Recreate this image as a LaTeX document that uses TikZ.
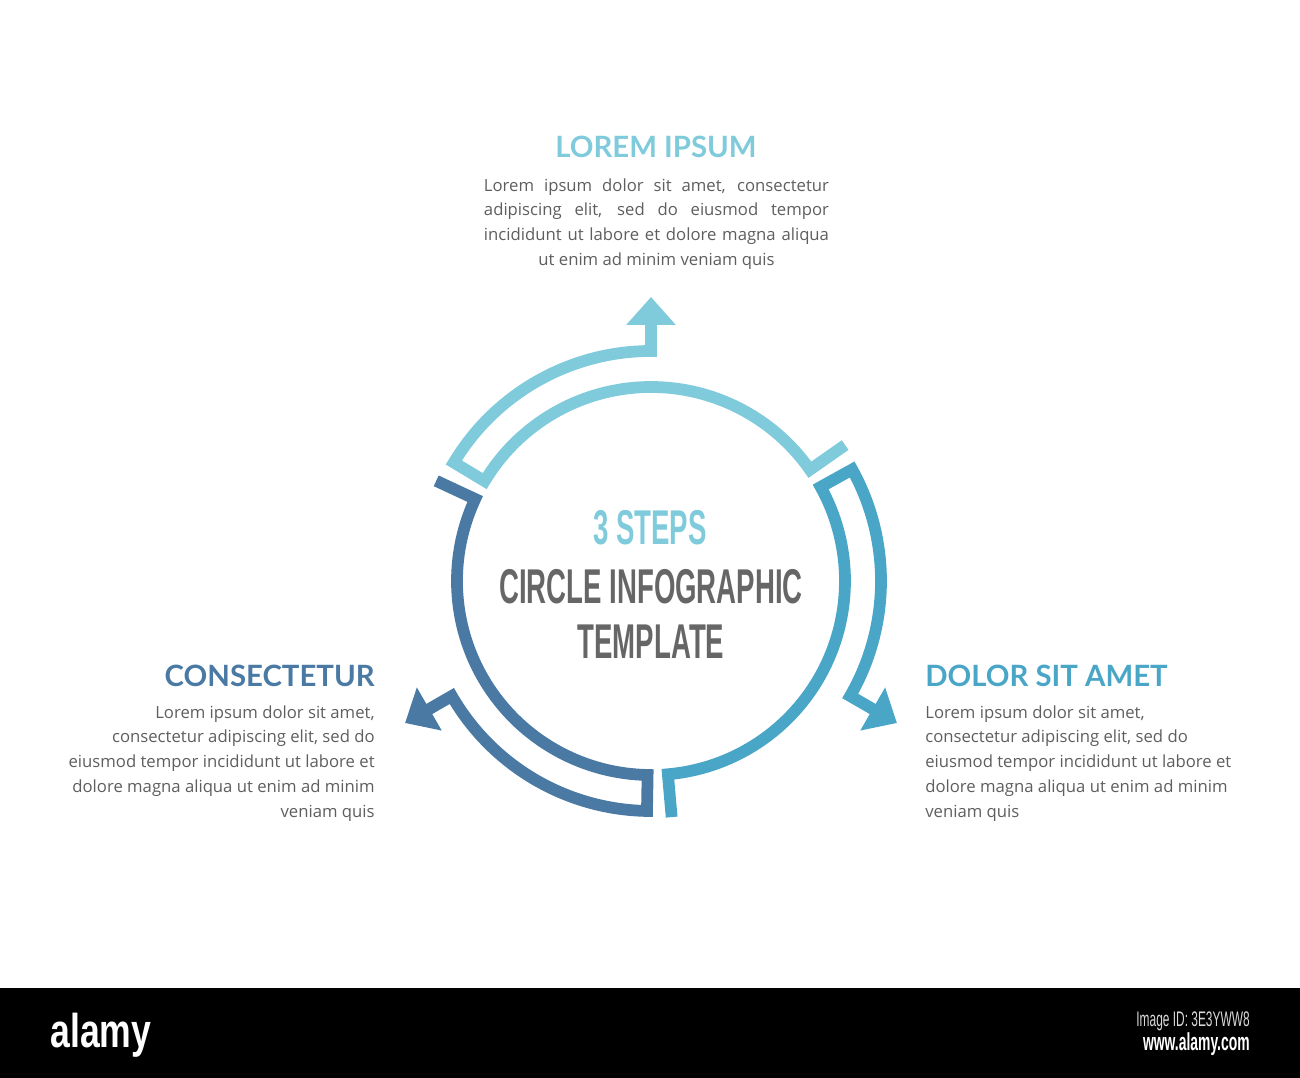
\documentclass[tikz,border=0pt]{standalone}
\usepackage{fontspec}
\usepackage{xcolor}
\usetikzlibrary{arrows.meta}
\setmainfont{Open Sans}
\newfontfamily\headfont{Lato}
\newfontfamily\stepsfont[FakeStretch=0.565]{Liberation Sans}
\newfontfamily\logofont[FakeStretch=0.75]{Liberation Sans}

\definecolor{segTop}{HTML}{7FCBDC}
\definecolor{segRight}{HTML}{4AA6C6}
\definecolor{segLeft}{HTML}{4A7AA3}
\definecolor{bodyGray}{HTML}{5E5E5E}
\definecolor{titleGray}{HTML}{666666}

\begin{document}
\begin{tikzpicture}[scale=1.0,
        seg/.style={line width=0.235cm, line join=miter, -{Triangle[length=0.56cm,width=0.96cm]}},
        head/.style={inner sep=0pt, font=\headfont\bfseries\fontsize{16.7}{20}\selectfont},
        body/.style={inner sep=0pt, text=bodyGray, font=\fontsize{9.5}{14.2}\selectfont},
        title/.style={inner sep=0pt, font=\stepsfont\bfseries\fontsize{27.8}{30}\selectfont}]
        \useasboundingbox (-13.02,-9.94) rectangle (12.98,11.62);

        % Сегменты круга
        \foreach \ang/\col in {0/segTop, -120/segRight, 120/segLeft}
            \draw[seg, \col, rotate=\ang] (35:4.74) -- (35:3.88)
                arc[start angle=35, end angle=149, radius=3.88] -- (149:4.6)
                arc[start angle=149, end angle=90, radius=4.6] -- (90:5.68);

        % Заголовок в центре
        \node[title, text=segTop, anchor=base] (steps) at (-0.02,0.72) {3 STEPS};
        \node[title, text=titleGray, anchor=base] (circ) at (0,-0.44) {CIRCLE INFOGRAPHIC};
        \node[title, text=titleGray, anchor=base] (templ) at (0,-1.54) {TEMPLATE};

        % Верхний блок
        \node[head, text=segTop, anchor=base] (headTop) at (0.1,8.46) {LOREM IPSUM};
        \node[body, anchor=north, align=center] (bodyTop) at (0.11,8.06)
            {\makebox[6.9cm][s]{Lorem ipsum dolor sit amet, consectetur}\\
             \makebox[6.9cm][s]{adipiscing elit, sed do eiusmod tempor}\\
             \makebox[6.9cm][s]{incididunt ut labore et dolore magna aliqua}\\
             ut enim ad minim veniam quis};

        % Левый блок
        \node[head, text=segLeft, anchor=base east] (headLeft) at (-5.52,-2.1) {CONSECTETUR};
        \node[body, anchor=north east, align=right] (bodyLeft) at (-5.52,-2.48)
            {Lorem ipsum dolor sit amet,\\
             consectetur adipiscing elit, sed do\\
             eiusmod tempor incididunt ut labore et\\
             dolore magna aliqua ut enim ad minim\\
             veniam quis};

        % Правый блок
        \node[head, text=segRight, anchor=base west] (headRight) at (5.48,-2.1) {DOLOR SIT AMET};
        \node[body, anchor=north west, align=left] (bodyRight) at (5.48,-2.48)
            {Lorem ipsum dolor sit amet,\\
             consectetur adipiscing elit, sed do\\
             eiusmod tempor incididunt ut labore et\\
             dolore magna aliqua ut enim ad minim\\
             veniam quis};

        % Полоса внизу
        \fill[black] (-13.02,-8.14) rectangle (12.98,-9.94);
        \node[inner sep=0pt, text=white, anchor=base west, font=\logofont\bfseries\fontsize{27}{30}\selectfont] (logo) at (-12.02,-9.32) {alamy};
        \node[inner sep=0pt, text=white!85!black, anchor=base east, font=\stepsfont\fontsize{12}{14}\selectfont] (imgId) at (11.98,-8.9) {Image ID: 3E3YWW8};
        \node[inner sep=0pt, text=white, anchor=base east, font=\stepsfont\bfseries\fontsize{14}{16}\selectfont] (www) at (11.98,-9.38) {www.alamy.com};
    \end{tikzpicture}
\end{document}
